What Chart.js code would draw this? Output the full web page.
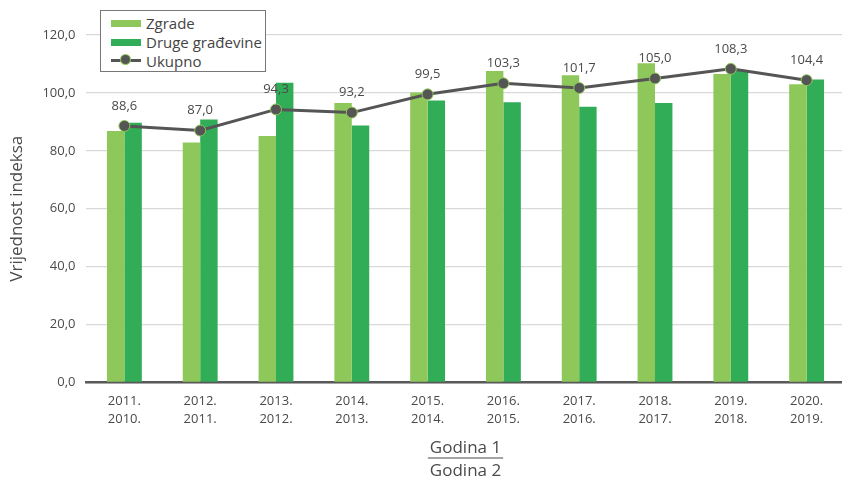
<!DOCTYPE html>
<html>
<head>
<meta charset="utf-8">
<script src="https://cdn.jsdelivr.net/npm/chart.js@4/dist/chart.umd.min.js"></script>
<style>
  body { margin: 0; background: #fff; }
  #wrap { position: relative; width: 842px; height: 480px; overflow: hidden; }
  #legend {
    position: absolute; left: 100px; top: 10px; width: 164px; height: 60px;
    border: 1.5px solid #777; background: #fff;
    font-family: "Open Sans", sans-serif; font-size: 15px; color: #444;
  }
  #legend div { position: absolute; left: 10px; height: 20px; line-height: 20px; white-space: nowrap; }
  #legend span.sw { display: inline-block; width: 30px; height: 7px; vertical-align: middle; margin-right: 5px; position: relative; top: -1px; }
</style>
</head>
<body>
<div id="wrap">
  <!-- plot area runs a little past the right edge, as in the reference -->
  <canvas id="myChart" width="851" height="480"></canvas>
  <div id="legend"></div>
</div>
<script>
const categories = [
    ['2011.', '2010.'], ['2012.', '2011.'], ['2013.', '2012.'], ['2014.', '2013.'], ['2015.', '2014.'],
    ['2016.', '2015.'], ['2017.', '2016.'], ['2018.', '2017.'], ['2019.', '2018.'], ['2020.', '2019.']
];
const zgrade = [86.8, 82.9, 85.1, 96.5, 100.1, 107.6, 106.1, 110.2, 106.5, 103.0];
const drugeGradevine = [89.7, 90.8, 103.5, 88.7, 97.4, 96.8, 95.2, 96.5, 107.9, 104.6];
const ukupno = [88.6, 87.0, 94.3, 93.2, 99.5, 103.3, 101.7, 105.0, 108.3, 104.4];
const yTicks = [0, 20, 40, 60, 80, 100, 120];

const textColor = '#4a4a4a';
const fontFamily = '"Open Sans", sans-serif';

const fmt = v => v.toFixed(1).replace('.', ',');

// value labels above the Ukupno points
const lineLabels = {
    id: 'lineLabels',
    afterDatasetsDraw(chart) {
        const meta = chart.getDatasetMeta(2);
        const ctx = chart.ctx;
        ctx.save();
        ctx.font = '13px ' + fontFamily;
        ctx.fillStyle = textColor;
        ctx.textAlign = 'center';
        ctx.textBaseline = 'middle';
        meta.data.forEach((pt, i) => {
            ctx.fillText(fmt(ukupno[i]), pt.x, pt.y - 20);
        });
        ctx.restore();
    }
};

// line between "Godina 1" and "Godina 2"
const fractionLine = {
    id: 'fractionLine',
    afterDraw(chart) {
        const ctx = chart.ctx;
        const cx = (chart.chartArea.left + chart.chartArea.right) / 2;
        ctx.save();
        ctx.font = '17px ' + fontFamily;
        const w = ctx.measureText('Godina 1').width;
        const y = 458;
        ctx.strokeStyle = textColor;
        ctx.lineWidth = 1.2;
        ctx.beginPath();
        ctx.moveTo(cx - w / 2 - 2, y);
        ctx.lineTo(cx + w / 2 + 2, y);
        ctx.stroke();
        ctx.restore();
    }
};

const ctx = document.getElementById('myChart').getContext('2d');

const myChart = new Chart(ctx, {
    type: 'bar',
    data: {
        labels: categories,
        datasets: [{
            label: 'Zgrade',
            data: zgrade,
            backgroundColor: '#8fc85a',
            categoryPercentage: 0.46,
            barPercentage: 1.0,
            order: 2
        }, {
            label: 'Druge građevine',
            data: drugeGradevine,
            backgroundColor: '#32ad57',
            categoryPercentage: 0.46,
            barPercentage: 1.0,
            order: 2
        }, {
            type: 'line',
            label: 'Ukupno',
            data: ukupno,
            borderColor: '#555555',
            borderWidth: 3,
            pointBackgroundColor: '#555555',
            pointBorderColor: '#8fc85a',
            pointBorderWidth: 1,
            pointRadius: 5.5,
            tension: 0,
            order: 1
        }]
    },
    options: {
        responsive: false,
        animation: false,
        layout: {
            padding: { top: 35, bottom: 0, left: 7, right: 0 }
        },
        plugins: {
            legend: { display: false },
            tooltip: { enabled: false }
        },
        scales: {
            x: {
                grid: { display: false },
                border: { color: '#595959', width: 2.5 },
                ticks: {
                    color: textColor,
                    font: { family: fontFamily, size: 13, lineHeight: 1.45 },
                    padding: 1,
                    maxRotation: 0
                },
                title: {
                    display: true,
                    text: ['Godina 1', 'Godina 2'],
                    color: textColor,
                    font: { family: fontFamily, size: 17, lineHeight: 1.35 },
                    padding: { top: 7, bottom: -3 }
                }
            },
            y: {
                min: 0,
                max: 120,
                afterBuildTicks: axis => { axis.ticks = yTicks.map(v => ({ value: v })); },
                grid: { color: '#d9d9d9', lineWidth: 1.2, drawTicks: false },
                border: { display: false },
                ticks: {
                    color: textColor,
                    font: { family: fontFamily, size: 13 },
                    padding: 11,
                    callback: value => fmt(value)
                },
                title: {
                    display: true,
                    text: 'Vrijednost indeksa',
                    color: textColor,
                    font: { family: fontFamily, size: 17 },
                    padding: { top: 0, bottom: 4 }
                }
            }
        }
    },
    plugins: [lineLabels, fractionLine]
});

// legend built from the chart's datasets
const legend = document.getElementById('legend');
myChart.data.datasets.forEach((ds, i) => {
    const row = document.createElement('div');
    row.style.top = (2 + i * 19) + 'px';
    let sw;
    if (ds.type === 'line') {
        sw = '<span class="sw" style="height:3px;background:' + ds.borderColor + ';top:-2px">' +
             '<span style="position:absolute;left:10px;top:-4px;width:9px;height:9px;border-radius:50%;background:' +
             ds.pointBackgroundColor + ';box-shadow:0 0 0 1px ' + ds.pointBorderColor + '"></span></span>';
    } else {
        sw = '<span class="sw" style="background:' + ds.backgroundColor + '"></span>';
    }
    row.innerHTML = sw + ds.label;
    legend.appendChild(row);
});
</script>
</body>
</html>
